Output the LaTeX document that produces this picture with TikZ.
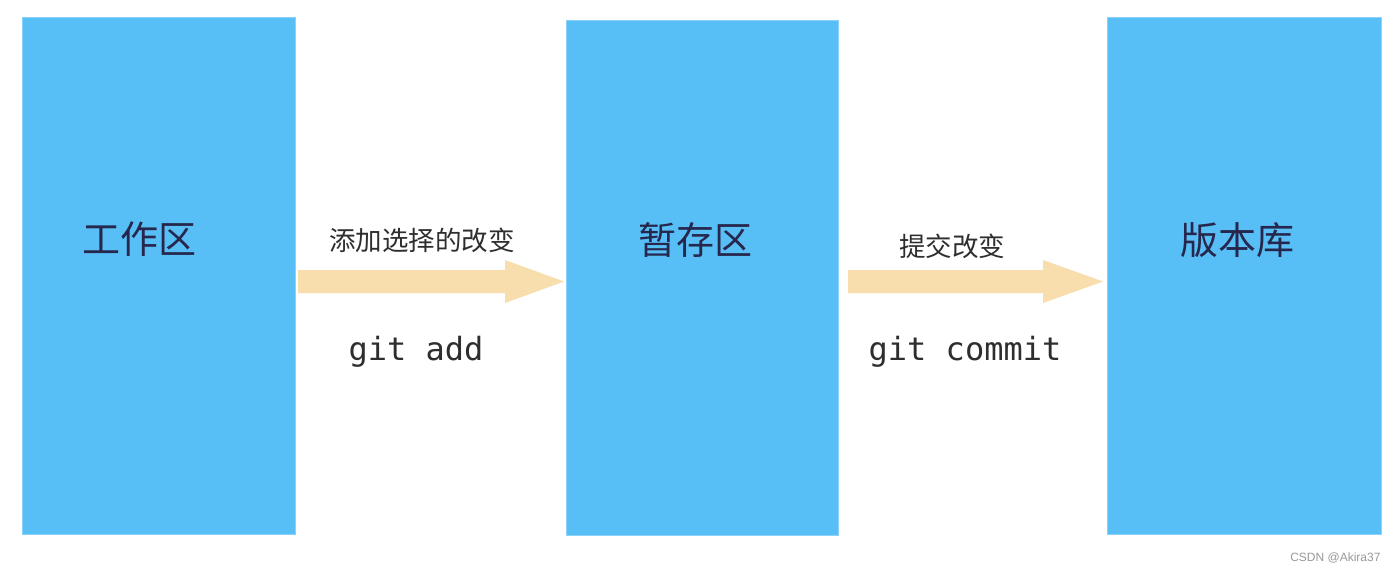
\documentclass[tikz,border=0pt]{standalone}
\usepackage{fontspec}
\setmainfont{Liberation Sans}
\newfontfamily\cjk{Noto Sans CJK SC}
\newfontfamily\monof{DejaVu Sans Mono}
\definecolor{boxblue}{HTML}{58BFF6}
\definecolor{arrowtan}{HTML}{F8DEAC}
\definecolor{txt}{HTML}{2E2E2E}
\begin{document}
\begin{tikzpicture}[x=1pt,y=-1pt,
  area/.style={fill=boxblue,draw=boxblue!70!white,line width=0.8pt},
  arealabel/.style={font=\cjk\fontsize{38}{42}\selectfont,text=txt!85!blue},
  steplabel/.style={font=\cjk\fontsize{26.5}{30}\selectfont,text=txt},
  cmdlabel/.style={font=\monof\fontsize{32}{36}\selectfont,text=txt},
  fatarrow/.style={fill=arrowtan,draw=none}]
\useasboundingbox (0,0) rectangle (1398,574);
\fill[white] (0,0) rectangle (1398,574);
% boxes
\node[area,minimum width=273pt,minimum height=517pt,inner sep=0pt,anchor=north west] (wd) at (22,17) {};
\node[area,minimum width=272pt,minimum height=515pt,inner sep=0pt,anchor=north west] (stage) at (566,20) {};
\node[area,minimum width=274pt,minimum height=517pt,inner sep=0pt,anchor=north west] (repo) at (1107,17) {};
\node[arealabel] (wdl) at (139,239) {工作区};
\node[arealabel] (stagel) at (695,240) {暂存区};
\node[arealabel] (repol) at (1237,240) {版本库};
% arrows
\fill[fatarrow] (298,270) -- (505,270) -- (505,260) -- (564,281.5) -- (505,303) -- (505,293) -- (298,293) -- cycle;
\fill[fatarrow] (848,270) -- (1043,270) -- (1043,260) -- (1103,281.5) -- (1043,303) -- (1043,293) -- (848,293) -- cycle;
% labels
\node[steplabel] (l1) at (422,240) {添加选择的改变};
\node[cmdlabel] (c1) at (416,352) {git add};
\node[steplabel] (l2) at (952,246) {提交改变};
\node[cmdlabel] (c2) at (965,352) {git commit};
% watermark
\node[font=\fontsize{12}{14}\selectfont,text=gray!80,anchor=east] (wm) at (1384,558) {CSDN @Akira37};
\end{tikzpicture}
\end{document}
